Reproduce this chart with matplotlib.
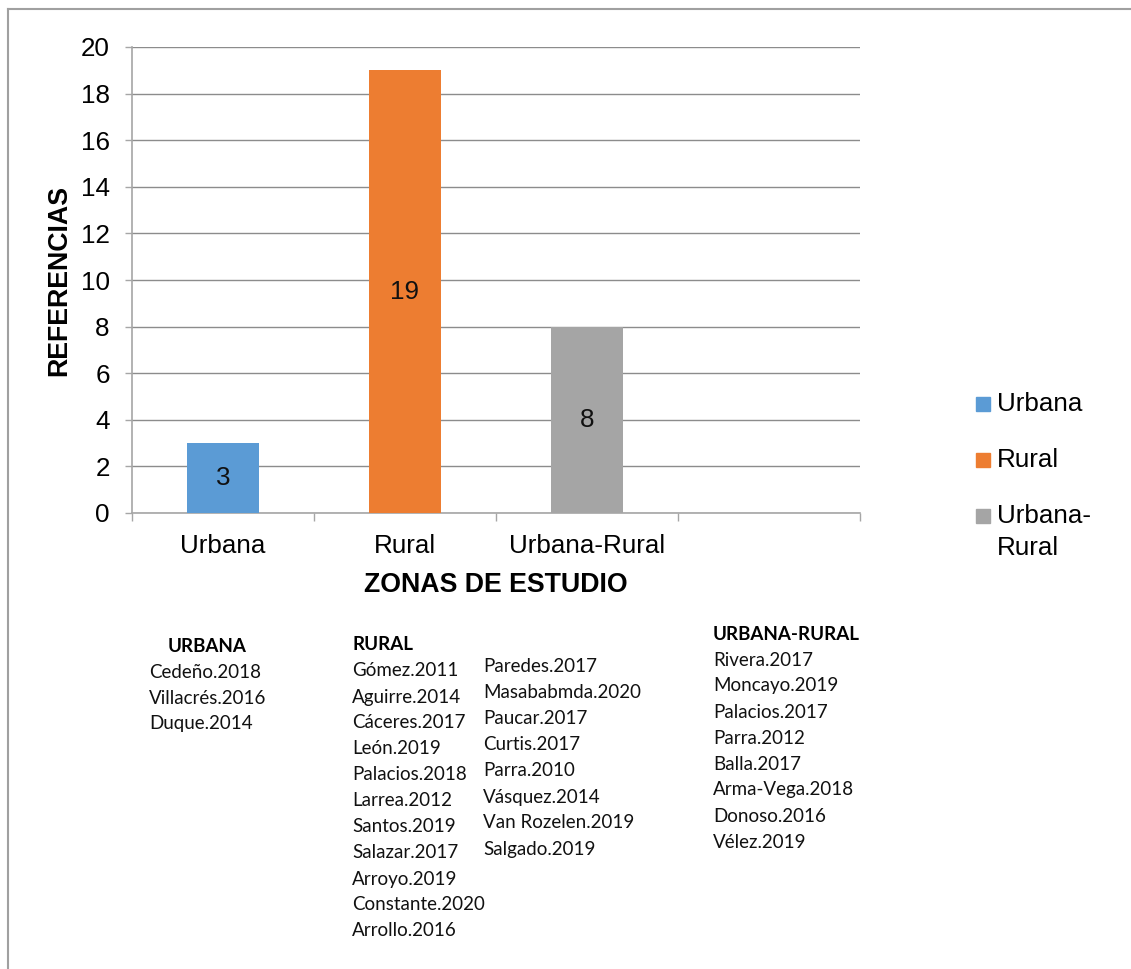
import matplotlib.pyplot as plt
from matplotlib.lines import Line2D
from matplotlib.patches import Rectangle

# data
zonas = ['Urbana', 'Rural', 'Urbana-Rural']
referencias = [3, 19, 8]
colores = ['#5B9BD5', '#ED7D31', '#A5A5A5']
leyenda = ['Urbana', 'Rural', 'Urbana-\nRural']

urbana = ['Cedeño.2018', 'Villacrés.2016', 'Duque.2014']
rural_1 = ['Gómez.2011', 'Aguirre.2014', 'Cáceres.2017', 'León.2019', 'Palacios.2018',
           'Larrea.2012', 'Santos.2019', 'Salazar.2017', 'Arroyo.2019',
           'Constante.2020', 'Arrollo.2016']
rural_2 = ['Paredes.2017', 'Masababmda.2020', 'Paucar.2017', 'Curtis.2017',
           'Parra.2010', 'Vásquez.2014', 'Van Rozelen.2019', 'Salgado.2019']
urbana_rural = ['Rivera.2017', 'Moncayo.2019', 'Palacios.2017', 'Parra.2012',
                'Balla.2017', 'Arma-Vega.2018', 'Donoso.2016', 'Vélez.2019']

W, H = 1131, 969
plt.rcParams['font.family'] = ['Liberation Sans', 'DejaVu Sans']
FS = 18.7

fig = plt.figure(figsize=(W / 100, H / 100), dpi=100)
ax = fig.add_axes([132 / W, 1 - 513 / H, 728 / W, 466 / H])


def fx(px):
    return px / W


def fy(py):
    return 1 - py / H


# outer frame (left and top only)
fig.add_artist(Line2D([fx(8), fx(8)], [fy(9), 0], color='#A0A0A0', lw=1.5))
fig.add_artist(Line2D([fx(8), 1], [fy(9), fy(9)], color='#A0A0A0', lw=1.5))

pos = list(range(len(zonas)))
bars = ax.bar(pos, referencias, width=0.4, color=colores, zorder=3)
ax.bar_label(bars, label_type='center', fontsize=FS, color='#111111')

ax.set_xlim(-0.5, 3.5)
ax.set_ylim(0, 20)
ax.set_yticks(range(0, 21, 2))
ax.set_xticks(pos)
ax.set_xticklabels(zonas)
ax.set_xticks([-0.5, 0.5, 1.5, 2.5, 3.5], minor=True)
ax.tick_params(axis='x', which='major', length=0, pad=15, labelsize=FS)
ax.tick_params(axis='x', which='minor', length=5.5, color='#A6A6A6', width=1)
ax.tick_params(axis='y', length=5, color='#A6A6A6', width=1, pad=11, labelsize=FS)
ax.grid(axis='y', color='#8C8C8C', lw=1, zorder=0)
ax.set_axisbelow(True)
for s in ['top', 'right']:
    ax.spines[s].set_visible(False)
for s in ['left', 'bottom']:
    ax.spines[s].set_color('#A6A6A6')
    ax.spines[s].set_linewidth(1.2)

ax.set_ylabel('REFERENCIAS', fontsize=19.3, fontweight='bold')
ax.yaxis.set_label_coords(-0.082, 0.5)
ax.set_xlabel('ZONAS DE ESTUDIO', fontsize=19.3, fontweight='bold')
ax.xaxis.set_label_coords(0.5, -0.126)

# legend
for i, (lab, col) in enumerate(zip(leyenda, colores)):
    yc = 404 + i * 56
    fig.add_artist(Rectangle((fx(976), fy(yc + 7)), 14 / W, 14 / H, color=col,
                             transform=fig.transFigure))
    for k, linea in enumerate(lab.split('\n')):
        fig.text(fx(997), fy(yc + 7 + k * 32), linea, fontsize=FS, va='baseline',
                 ha='left')

# reference lists
tfont = ['Lato', 'DejaVu Sans']
fs = 13.5
step = 26


def bloque(x, y0, nombres):
    for i, n in enumerate(nombres):
        fig.text(fx(x), fy(y0 + i * step), n, fontsize=fs, family=tfont,
                 va='center', ha='left', color='#111111')


fig.text(fx(207), fy(646), 'URBANA', fontsize=fs, family=tfont, fontweight='bold',
         va='center', ha='center')
bloque(149, 672, urbana)
fig.text(fx(352), fy(645), 'RURAL', fontsize=fs, family=tfont, fontweight='bold',
         va='center', ha='left')
bloque(352, 671, rural_1)
bloque(483, 667, rural_2)
fig.text(fx(713), fy(634), 'URBANA-RURAL', fontsize=fs, family=tfont, fontweight='bold',
         va='center', ha='left')
bloque(713, 660, urbana_rural)

fig.savefig('out.png', dpi=100)
